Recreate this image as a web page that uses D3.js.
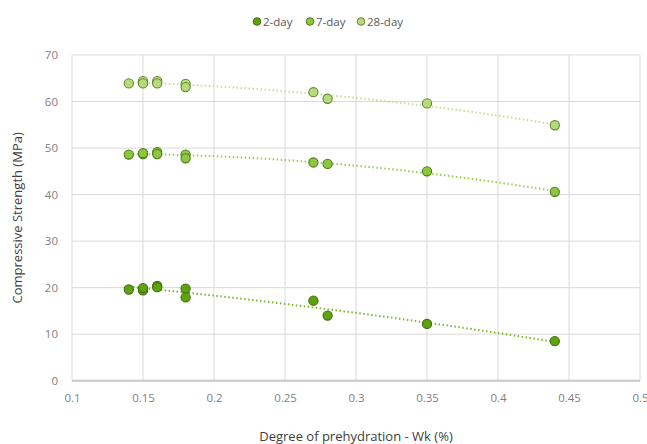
<!DOCTYPE html>
<html><head><meta charset="utf-8">
<script src="https://cdn.jsdelivr.net/npm/d3@7"></script>
<style>body{margin:0;background:#fff;font-family:"Open Sans","Noto Sans",sans-serif;}</style>
</head><body><svg id="c" width="647" height="444"></svg>
<script>
const seriesNames = ["2-day","7-day","28-day"];
const xTicks = [0.1,0.15,0.2,0.25,0.3,0.35,0.4,0.45,0.5];
const yTicks = [0,10,20,30,40,50,60,70];
const wk = [0.14,0.15,0.15,0.16,0.16,0.18,0.18,0.27,0.28,0.35,0.44];
const day2 = [19.6,19.4,19.9,20.4,20.1,19.8,17.9,17.2,14.0,12.2,8.5];
const day7 = [48.6,48.7,48.9,49.1,48.7,48.6,47.8,46.9,46.6,45.0,40.6];
const day28 = [63.9,64.4,63.9,64.4,63.9,63.8,63.1,62.0,60.6,59.6,54.9];
const fills = ["#5fa30c","#8dc63f","#b5db7d"];
const strokes = ["#3f6e0c","#4f7d1a","#66862e"];
const lineCols = ["#7ab828","#9acc4e","#c2e090"];

const svg = d3.select("#c");
const x = d3.scaleLinear().domain([0.1,0.5]).range([72,640]);
const y = d3.scaleLinear().domain([0,70]).range([380.7,55]);

// grid
svg.append("g").selectAll("line").data(xTicks).join("line")
  .attr("x1",d=>x(d)).attr("x2",d=>x(d)).attr("y1",y(70)).attr("y2",y(0))
  .attr("stroke","#d9d9d9").attr("stroke-width",1);
svg.append("g").selectAll("line").data(yTicks).join("line")
  .attr("x1",x(0.1)).attr("x2",x(0.5)).attr("y1",d=>y(d)).attr("y2",d=>y(d))
  .attr("stroke",d=>d===0?"#c8c8c8":"#d9d9d9").attr("stroke-width",d=>d===0?2:1);

// axes labels
const xa = svg.append("g").attr("transform",`translate(0,${y(0)})`)
  .call(d3.axisBottom(x).tickValues(xTicks).tickSize(0).tickPadding(13).tickFormat(d=>String(+d.toFixed(2))));
xa.select(".domain").remove();
xa.selectAll("text").attr("fill","#7f7f7f").style("font-size","11.5px").style("font-family","Open Sans");
const ya = svg.append("g").attr("transform",`translate(${x(0.1)},0)`)
  .call(d3.axisLeft(y).tickValues(yTicks).tickSize(0).tickPadding(14));
ya.select(".domain").remove();
ya.selectAll("text").attr("fill","#7f7f7f").style("font-size","11.5px").style("font-family","Open Sans");

svg.append("text").attr("x",356).attr("y",441).attr("text-anchor","middle")
  .attr("fill","#404040").style("font-size","13px").text("Degree of prehydration - Wk (%)");
svg.append("text").attr("transform",`translate(22,${(y(0)+y(70))/2}) rotate(-90)`).attr("text-anchor","middle")
  .attr("fill","#404040").style("font-size","13px").text("Compressive Strength (MPa)");

// quadratic least-squares trendline
function quadFit(xs,ys){
  let S=[0,0,0,0,0],T=[0,0,0];
  xs.forEach((xv,i)=>{for(let k=0;k<5;k++)S[k]+=Math.pow(xv,k);for(let k=0;k<3;k++)T[k]+=ys[i]*Math.pow(xv,k);});
  const A=[[S[0],S[1],S[2],T[0]],[S[1],S[2],S[3],T[1]],[S[2],S[3],S[4],T[2]]];
  for(let i=0;i<3;i++){for(let j=i+1;j<3;j++){const f=A[j][i]/A[i][i];for(let k=i;k<4;k++)A[j][k]-=f*A[i][k];}}
  const c=[0,0,0];
  for(let i=2;i>=0;i--){let s=A[i][3];for(let k=i+1;k<3;k++)s-=A[i][k]*c[k];c[i]=s/A[i][i];}
  return xv=>c[0]+c[1]*xv+c[2]*xv*xv;
}
const all=[day2,day7,day28];
const line=d3.line().x(d=>x(d[0])).y(d=>y(d[1]));
all.forEach((vals,si)=>{
  const f=quadFit(wk,vals);
  const xs=d3.range(0,41).map(i=>0.14+i*(0.44-0.14)/40);
  svg.append("path").attr("d",line(xs.map(v=>[v,f(v)]))).attr("fill","none")
    .attr("stroke",lineCols[si]).attr("stroke-width",2).attr("stroke-dasharray","1.5,2.5");
});
all.forEach((vals,si)=>{
  svg.append("g").selectAll("circle").data(vals).join("circle")
    .attr("cx",(d,i)=>x(wk[i])).attr("cy",d=>y(d)).attr("r",4.6)
    .attr("fill",fills[si]).attr("stroke",strokes[si]).attr("stroke-width",1.1);
});

// legend
const lx=[257,310,361];
seriesNames.forEach((n,i)=>{
  svg.append("circle").attr("cx",lx[i]).attr("cy",21.5).attr("r",3.8)
    .attr("fill",fills[i]).attr("stroke",strokes[i]).attr("stroke-width",1);
  svg.append("text").attr("x",lx[i]+6).attr("y",25.5).attr("fill","#595959")
    .style("font-size","11.5px").text(n);
});
</script></body></html>
